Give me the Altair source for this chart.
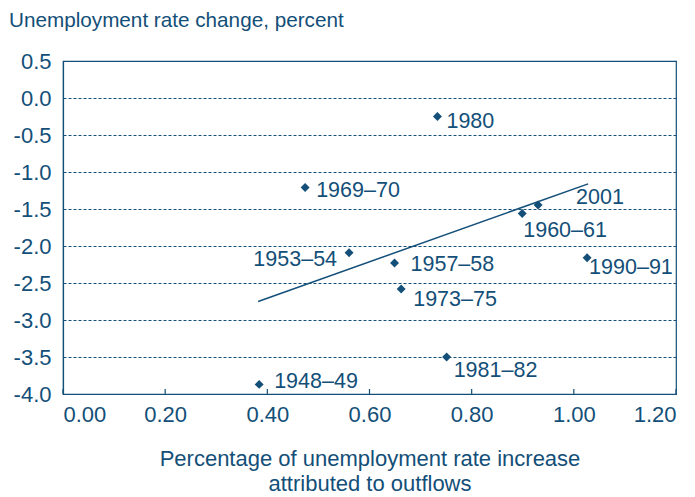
import altair as alt
import pandas as pd

# ---- data ----
periods = ["1948–49", "1953–54", "1957–58", "1960–61", "1969–70",
           "1973–75", "1980", "1981–82", "1990–91", "2001"]
outflow_share = [0.384, 0.560, 0.649, 0.899, 0.474, 0.662, 0.733, 0.751, 1.026, 0.930]
rate_change = [-3.87, -2.09, -2.23, -1.56, -1.21, -2.58, -0.25, -3.50, -2.16, -1.445]
trend_x = [0.382, 1.028]
trend_y = [-2.75, -1.16]
x_ticks = [0.0, 0.2, 0.4, 0.6, 0.8, 1.0, 1.2]
y_ticks = [0.5, 0.0, -0.5, -1.0, -1.5, -2.0, -2.5, -3.0, -3.5, -4.0]

# ---- styling ----
BLUE = "#134f78"
FONT = "Liberation Sans"
W, H = 613, 333
label_style = {
    "1948–49": (15, -2, "left"),
    "1953–54": (-12, 7, "right"),
    "1957–58": (16, 2, "left"),
    "1960–61": (1, 18, "left"),
    "1969–70": (11, 3, "left"),
    "1973–75": (12, 11, "left"),
    "1980": (9, 5, "left"),
    "1981–82": (7, 14, "left"),
    "1990–91": (2, 10, "left"),
    "2001": (38, -7, "left"),
}

points = pd.DataFrame({"period": periods, "share": outflow_share, "change": rate_change})
trend = pd.DataFrame({"share": trend_x, "change": trend_y})
ticks = pd.DataFrame({"share": x_ticks})

x_scale = alt.Scale(domain=[0, 1.2], nice=False, zero=False)
y_scale = alt.Scale(domain=[-4.0, 0.5], nice=False, zero=False)

x_enc = alt.X(
    "share:Q", scale=x_scale,
    axis=alt.Axis(values=x_ticks, format=".2f", grid=False, ticks=False,
                  labelPadding=10, titlePadding=23, titleLineHeight=25,
                  labelOverlap=False, titleFontSize=22,
                  title=["Percentage of unemployment rate increase",
                         "attributed to outflows"]),
)
y_enc = alt.Y(
    "change:Q", scale=y_scale,
    axis=alt.Axis(values=y_ticks, grid=True, gridDash=[3, 2], gridColor=BLUE,
                  gridWidth=1, gridOpacity=1, ticks=False, labelPadding=12,
                  title=None, labelOverlap=False,
                  labelExpr="replace(format(datum.value, '.1f'), '\u2212', '-')"),
)

pts = alt.Chart(points).mark_point(
    shape="diamond", filled=True, size=80, color=BLUE, opacity=1
).encode(x=x_enc, y=y_enc)

line = alt.Chart(trend).mark_line(color=BLUE, strokeWidth=1.5).encode(
    x=x_enc, y=y_enc
)

tick_marks = alt.Chart(ticks).mark_rule(color=BLUE, strokeWidth=1.2).encode(
    x=x_enc, y=alt.value(H - 5), y2=alt.value(H)
)

labels = []
for p, (dx, dy, align) in label_style.items():
    labels.append(
        alt.Chart(points).transform_filter(alt.datum.period == p).mark_text(
            dx=dx, dy=dy, align=align, baseline="middle",
            font=FONT, fontSize=21.5, color=BLUE
        ).encode(x=x_enc, y=y_enc, text="period:N")
    )

chart = alt.layer(line, tick_marks, pts, *labels).properties(
    width=W, height=H,
    autosize=alt.AutoSizeParams(type="none"),
    padding={"left": 55, "top": 53, "right": 11, "bottom": 115},
    title=alt.TitleParams(
        "Unemployment rate change, percent", anchor="start", frame="group",
        dx=-54, offset=18, font=FONT, fontSize=20.7, fontWeight="normal", color=BLUE
    ),
).configure(background="white").configure_view(
    stroke=BLUE, strokeWidth=1.2
).configure_axis(
    domainColor=BLUE, domainWidth=1.2, labelFont=FONT, labelFontSize=22,
    labelColor=BLUE, titleFont=FONT, titleFontSize=22, titleColor=BLUE,
    titleFontWeight="normal"
)

chart.save("out.html", embed_options={"renderer": "svg", "actions": False})
